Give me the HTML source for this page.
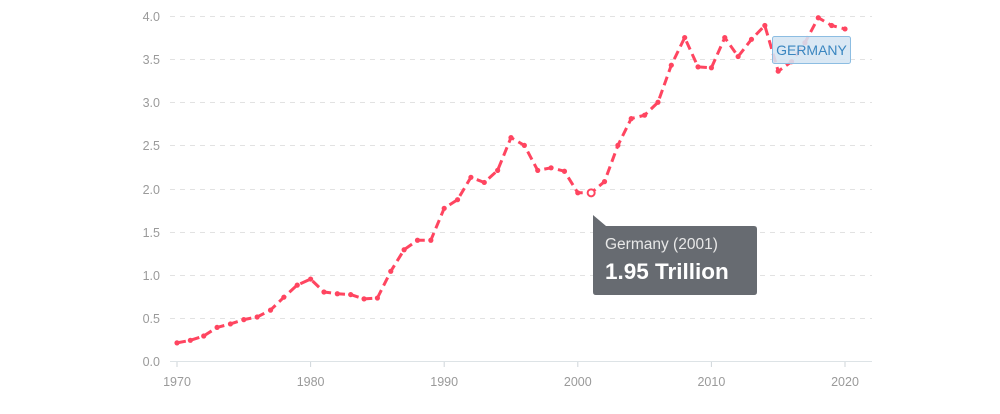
<!DOCTYPE html>
<html><head><meta charset="utf-8"><style>
html,body{margin:0;padding:0;background:#fff;width:1000px;height:414px;overflow:hidden}
svg{display:block;font-family:"Liberation Sans",sans-serif}
</style></head><body>
<svg id="c" width="1000" height="414" viewBox="0 0 1000 414">
<g stroke="#e2e2e2" stroke-width="1" stroke-dasharray="5 5">
<line x1="170" y1="16.5" x2="872" y2="16.5"/>
<line x1="170" y1="59.5" x2="872" y2="59.5"/>
<line x1="170" y1="102.5" x2="872" y2="102.5"/>
<line x1="170" y1="145.5" x2="872" y2="145.5"/>
<line x1="170" y1="189.5" x2="872" y2="189.5"/>
<line x1="170" y1="232.5" x2="872" y2="232.5"/>
<line x1="170" y1="275.5" x2="872" y2="275.5"/>
<line x1="170" y1="318.5" x2="872" y2="318.5"/>
</g>
<line x1="170" y1="361.5" x2="872" y2="361.5" stroke="#dde3e6" stroke-width="1"/>
<g fill="#9a9a9a" font-size="12.5" text-anchor="end">
<text x="160" y="21">4.0</text><text x="160" y="64">3.5</text><text x="160" y="107">3.0</text>
<text x="160" y="150">2.5</text><text x="160" y="194">2.0</text><text x="160" y="237">1.5</text>
<text x="160" y="280">1.0</text><text x="160" y="323">0.5</text><text x="160" y="366">0.0</text>
</g>
<g id="xt" fill="#9a9a9a" font-size="12.5" text-anchor="middle"></g>
<g id="ser"></g>
<g>
<rect x="772.5" y="36.5" width="78" height="27" rx="2" fill="#d5e5f3" fill-opacity="0.88" stroke="#8cbde2"/>
<text x="811.5" y="55" fill="#3a86c0" font-size="14" text-anchor="middle">GERMANY</text>
</g>
<g>
<path d="M593 215 L606 226 L754 226 Q757 226 757 229 L757 292 Q757 295 754 295 L596 295 Q593 295 593 292 Z" fill="#676b71"/>
<text x="605" y="249" fill="#e8e8e8" font-size="15.5">Germany (2001)</text>
<text x="605" y="279" fill="#fff" font-size="22.5" font-weight="bold">1.95 Trillion</text>
</g>
</svg>
<script>
var d=[0.21,0.24,0.29,0.39,0.43,0.48,0.51,0.59,0.74,0.88,0.95,0.80,0.78,0.77,0.72,0.73,1.04,1.29,1.40,1.40,1.77,1.87,2.13,2.07,2.21,2.59,2.50,2.21,2.24,2.20,1.95,1.95,2.08,2.50,2.81,2.85,3.00,3.43,3.75,3.41,3.40,3.75,3.53,3.73,3.89,3.36,3.47,3.69,3.98,3.89,3.85];
var ns="http://www.w3.org/2000/svg";
function X(i){return 177+i*(668/50);}function Y(v){return 361-v*86.25;}
var g=document.getElementById("ser"),xt=document.getElementById("xt");
var pts=d.map(function(v,i){return X(i).toFixed(1)+","+Y(v).toFixed(1)}).join(" ");
var pl=document.createElementNS(ns,"polyline");
pl.setAttribute("points",pts);pl.setAttribute("fill","none");pl.setAttribute("stroke","#ff4560");
pl.setAttribute("stroke-width","3");pl.setAttribute("stroke-dasharray","9 5");pl.setAttribute("stroke-linejoin","round");
g.appendChild(pl);
d.forEach(function(v,i){var c=document.createElementNS(ns,"circle");c.setAttribute("cx",X(i));c.setAttribute("cy",Y(v));
if(i==31){c.setAttribute("r","3.5");c.setAttribute("fill","#fff");c.setAttribute("stroke","#ff4560");c.setAttribute("stroke-width","2");}
else{c.setAttribute("r","2.6");c.setAttribute("fill","#ff4560");}g.appendChild(c);});
for(var y=1970;y<=2020;y+=10){var i=y-1970;
var l=document.createElementNS(ns,"line");l.setAttribute("x1",X(i));l.setAttribute("x2",X(i));l.setAttribute("y1",362);l.setAttribute("y2",367);l.setAttribute("stroke","#cfd6da");xt.appendChild(l);
var t=document.createElementNS(ns,"text");t.setAttribute("x",X(i));t.setAttribute("y",386);t.textContent=y;xt.appendChild(t);}
</script>
</body></html>
